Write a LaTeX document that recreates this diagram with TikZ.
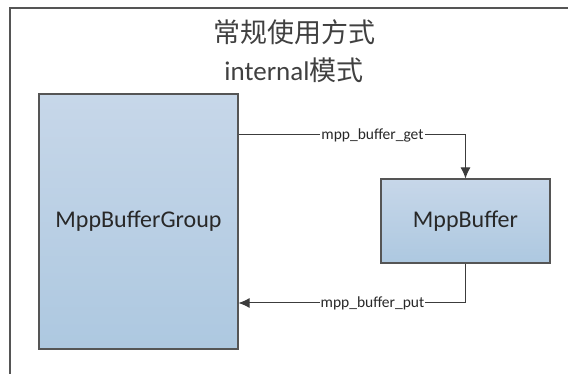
\documentclass[tikz,border=0pt]{standalone}
\usepackage{fontspec}
\usepackage{xcolor}
\usetikzlibrary{arrows.meta}
\setmainfont{Carlito}
\newfontfamily\cjk{Noto Sans CJK SC}
\definecolor{boxtop}{RGB}{199,215,233}
\definecolor{boxbot}{RGB}{173,200,224}
\definecolor{edge}{RGB}{85,85,85}
\definecolor{wire}{RGB}{60,60,60}
\definecolor{ink}{RGB}{40,40,40}

\begin{document}
\begin{tikzpicture}[
    x=1pt, y=-1pt,
    block/.style={draw=edge, line width=1.1pt, top color=boxtop, bottom color=boxbot,
        inner sep=0pt, font=\fontsize{24}{28}\selectfont, text=ink},
    flow/.style={draw=wire, line width=1pt, -{Latex[length=11pt,width=10pt]}},
    lbl/.style={fill=white, inner sep=1pt, font=\fontsize{15.5}{18}\selectfont, text=ink},
    heading/.style={font=\fontsize{27}{32}\selectfont, text=black!75}
]
\useasboundingbox (0,0) rectangle (568,374);
% frame around the page
\draw[edge, line width=1.4pt] (10,374) -- (10,8) -- (568,8);

\node[heading] (title) at (294,32) {\cjk 常规使用方式};
\node[heading] (mode) at (294,70) {internal{\cjk 模式}};

\node[block, minimum width=199pt, minimum height=255pt] (group) at (138.5,221.5) {MppBufferGroup};
\node[block, minimum width=169pt, minimum height=84pt] (buf) at (465.5,221) {MppBuffer};

\coordinate (getturn) at (465.5,135);
\coordinate (putturn) at (465.5,303);

\draw[flow] (getturn -| group.east) -- node[lbl, pos=0.59] {mpp\_buffer\_get} (getturn) -- (buf.north);
\draw[flow] (buf.south) -- (putturn) -- node[lbl, pos=0.41] {mpp\_buffer\_put} (putturn -| group.east);
\end{tikzpicture}
\end{document}
